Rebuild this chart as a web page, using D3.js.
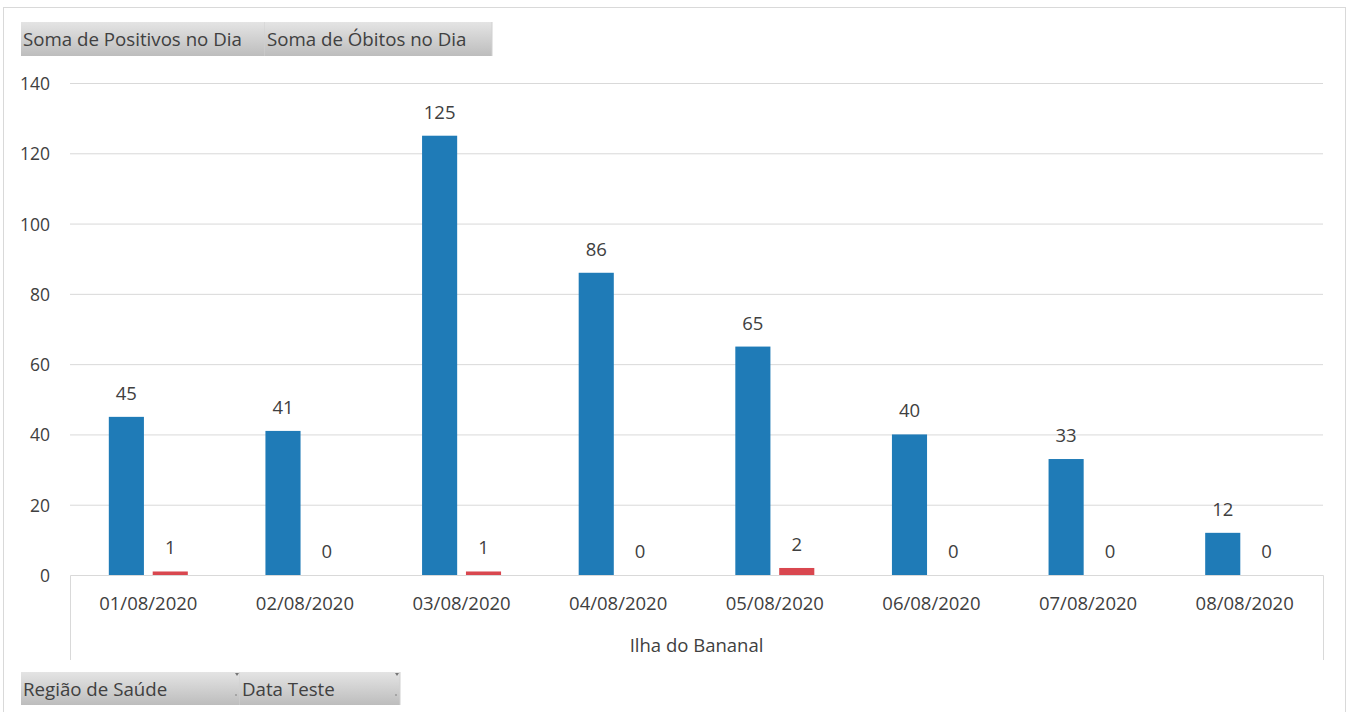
<!DOCTYPE html>
<html lang="pt">
<head>
<meta charset="UTF-8">
<title>Ilha do Bananal</title>
<script src="https://cdnjs.cloudflare.com/ajax/libs/d3/7.8.5/d3.min.js"></script>
<style>
    body { margin: 0; background: #fff; font-family: "Open Sans", "Noto Sans", sans-serif; }
    svg text { fill: #404040; }
</style>
</head>
<body>
<svg id="chart" width="1351" height="712"></svg>
<script>
const dates = ["01/08/2020", "02/08/2020", "03/08/2020", "04/08/2020", "05/08/2020", "06/08/2020", "07/08/2020", "08/08/2020"];
const positivos = [45, 41, 125, 86, 65, 40, 33, 12];
const obitos = [1, 0, 1, 0, 2, 0, 0, 0];
const yTicks = [0, 20, 40, 60, 80, 100, 120, 140];
const groupLabel = "Ilha do Bananal";
const seriesNames = ["Soma de Positivos no Dia", "Soma de Óbitos no Dia"];
const filterNames = ["Região de Saúde", "Data Teste"];

const svg = d3.select("#chart");
const plotLeft = 70, plotRight = 1323, plotTop = 83, plotBottom = 575;

// outer frame
svg.append("rect").attr("x", 3.5).attr("y", 7.5).attr("width", 1342).attr("height", 720)
    .attr("fill", "none").attr("stroke", "#d9d9d9");

const defs = svg.append("defs");
const grad = defs.append("linearGradient").attr("id", "btn").attr("x1", 0).attr("y1", 0).attr("x2", 0).attr("y2", 1);
grad.append("stop").attr("offset", "0%").attr("stop-color", "#e4e4e4");
grad.append("stop").attr("offset", "100%").attr("stop-color", "#bdbdbd");

function buttons(names, widths, bx, by, h, arrows) {
    let x = bx;
    names.forEach((n, i) => {
        const g = svg.append("g").attr("transform", `translate(${x},${by})`);
        g.append("rect").attr("width", widths[i]).attr("height", h).attr("fill", "url(#btn)");
        g.append("line").attr("x1", widths[i]).attr("x2", widths[i]).attr("y1", 0).attr("y2", h).attr("stroke", "#d0d0d0");
        g.append("text").attr("x", 2).attr("y", h / 2 + 7).attr("font-size", 18.7).text(n);
        if (arrows) {
            g.append("path").attr("d", `M${widths[i] - 5},1 l4,0 l-2,3 z`).attr("fill", "#777");
            g.append("circle").attr("cx", widths[i] - 4).attr("cy", h - 10).attr("r", 0.8).attr("fill", "#777");
        }
        x += widths[i];
    });
}
buttons(seriesNames, [244, 227], 21, 22, 34, false);
buttons(filterNames, [219, 160], 21, 672, 33, true);

const y = d3.scaleLinear().domain([0, 140]).range([plotBottom, plotTop]);
const x0 = d3.scaleBand().domain(dates).range([plotLeft, plotRight]);
const x1 = d3.scaleBand().domain([0, 1]).range([x0.bandwidth() / 2 - 39.5, x0.bandwidth() / 2 + 39.5]).paddingInner(0.2);

// grid
svg.append("g").selectAll("line").data(yTicks.filter(d => d > 0)).join("line")
    .attr("x1", plotLeft).attr("x2", plotRight)
    .attr("y1", d => y(d) + 0.5).attr("y2", d => y(d) + 0.5)
    .attr("stroke", "#d9d9d9");

// y axis labels
svg.append("g").selectAll("text").data(yTicks).join("text")
    .attr("x", 50).attr("y", d => y(d) + 7)
    .attr("text-anchor", "end").attr("font-size", 17.5)
    .text(d => d);

// category axis box
svg.append("path")
    .attr("d", `M${plotLeft + 0.5},660 V${plotBottom + 0.5} H${plotRight + 0.5} V660`)
    .attr("fill", "none").attr("stroke", "#d9d9d9");

const colors = ["#1f7bb7", "#d9474f"];
const series = [positivos, obitos];

series.forEach((vals, s) => {
    const g = svg.append("g");
    g.selectAll("rect").data(vals).join("rect")
        .attr("x", (d, i) => x0(dates[i]) + x1(s))
        .attr("width", x1.bandwidth())
        .attr("y", d => y(d))
        .attr("height", d => y(0) - y(d))
        .attr("fill", colors[s]);
    g.selectAll("text").data(vals).join("text")
        .attr("x", (d, i) => x0(dates[i]) + x1(s) + x1.bandwidth() / 2)
        .attr("y", d => y(d) - 17)
        .attr("text-anchor", "middle").attr("font-size", 18.5)
        .text(d => d);
});

// category labels
svg.append("g").selectAll("text").data(dates).join("text")
    .attr("x", d => x0(d) + x0.bandwidth() / 2)
    .attr("y", 610)
    .attr("text-anchor", "middle").attr("font-size", 18.5)
    .text(d => d);

svg.append("text").attr("x", (plotLeft + plotRight) / 2).attr("y", 652)
    .attr("text-anchor", "middle").attr("font-size", 18.5).text(groupLabel);
</script>
</body>
</html>
